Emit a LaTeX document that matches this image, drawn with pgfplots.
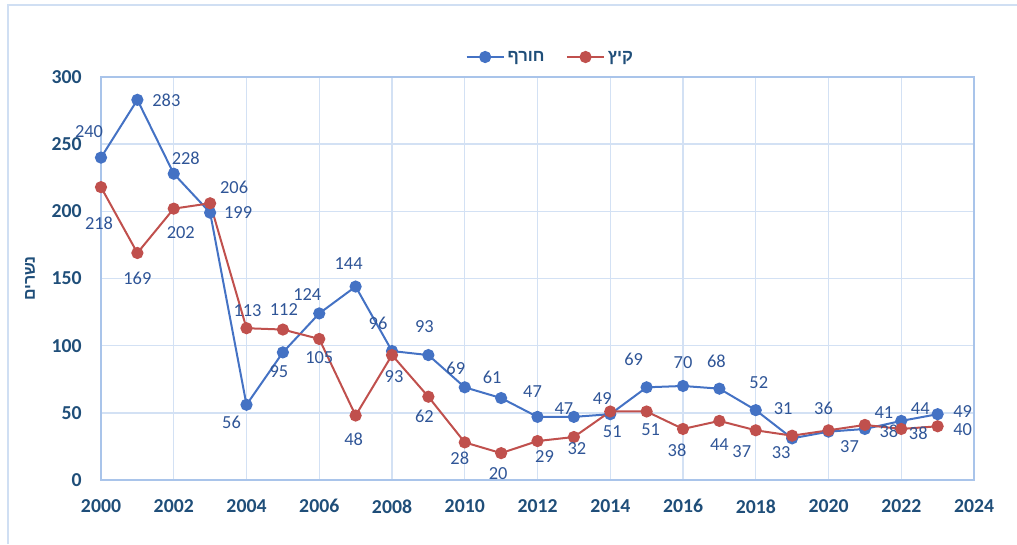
\documentclass[border=0pt]{standalone}
\usepackage{fontspec}
\setmainfont{Carlito}
\newfontfamily\hebfont[Script=Hebrew]{Liberation Sans}
\TeXXeTstate=1
\usepackage{pgfplots}
\usepackage{pgfplotstable}
\pgfplotsset{compat=1.18}
\definecolor{winter}{HTML}{4472C4}
\definecolor{summer}{HTML}{C0504D}
\definecolor{tickcol}{HTML}{1F4E79}
\definecolor{labcol}{HTML}{2F5597}
\definecolor{gridcol}{HTML}{D3E1F4}
\definecolor{axcol}{HTML}{A9C4EA}
\definecolor{framecol}{HTML}{D0DFF3}

\pgfplotstableread{
year val dx dy
2000 240 -12 -26
2001 283 29 0
2002 228 12 -15
2003 199 28 0
2004 56 -15 18
2005 95 -4 19
2006 124 -12 -19
2007 144 -7 -23
2008 96 -14 -28
2009 93 -4 -28
2010 69 -9 -19
2011 61 -9 -21
2012 47 -5 -25
2013 47 -10 -8
2014 49 -8 -16
2015 69 -13 -28
2016 70 0 -23
2017 68 -3 -27
2018 52 3 -28
2019 31 -9 -30
2020 36 -5 -23
2021 38 24 2
2022 44 19 -12
2023 49 25 -3
}\tabwinter

\pgfplotstableread{
year val dx dy
2000 218 -2 36
2001 169 0 25
2002 202 7 24
2003 206 24 -16
2004 113 1 -18
2005 112 1 -20
2006 105 0 19
2007 48 -2 24
2008 93 2 22
2009 62 -4 20
2010 28 -5 16
2011 20 -3 20
2012 29 7 15
2013 32 3 12
2014 51 2 20
2015 51 4 18
2016 38 -6 21
2017 44 0 24
2018 37 -14 21
2019 33 -11 17
2020 37 21 16
2021 41 19 -12
2022 38 17 4
2023 40 25 3
}\tabsummer

\begin{document}
\begin{tikzpicture}
\useasboundingbox (-75.75pt,-48pt) rectangle (687pt,360pt);
\draw[framecol, line width=1.5pt] (-69.75pt,-48pt) -- (-69.75pt,356.25pt) -- (687pt,356.25pt);
\begin{axis}[
  at={(0pt,0pt)}, anchor=south west, scale only axis,
  width=654.75pt, height=302.25pt,
  xmin=2000, xmax=2024, ymin=0, ymax=300,
  xtick distance=2, ytick distance=50,
  grid=major, major grid style={gridcol, line width=1.1pt},
  axis line style={axcol, line width=1.3pt},
  major tick length=0pt,
  clip=false,
  tick label style={font=\fontsize{14.8}{17}\selectfont\bfseries, text=tickcol},
  /pgf/number format/assume math mode=true,
  /pgf/number format/1000 sep={},
  yticklabel style={xshift=-11pt},
  xticklabel style={yshift=-11pt},
  ylabel={\hebfont\bfseries\beginR נשרים\endR},
  ylabel style={at={(axis description cs:-0.0813,0.5)}, anchor=center, font=\fontsize{12}{14}\selectfont, text=tickcol},
  legend style={at={(0.515,1)}, anchor=center, yshift=15pt, draw=none, fill=none,
    font=\fontsize{12.5}{14}\selectfont, text=tickcol,
    /tikz/every even column/.append style={column sep=14pt}},
  legend columns=2,
  legend image code/.code={\draw[#1, mark repeat=2, mark phase=2] plot coordinates {(0pt,0pt)(14pt,0pt)(28pt,0pt)};},
  point meta=explicit symbolic,
  visualization depends on={\thisrow{dx} \as \dx},
  visualization depends on={\thisrow{dy} \as \dy},
  nodes near coords,
  nodes near coords style={font=\fontsize{13.8}{16}\selectfont, text=labcol, anchor=center,
     xshift={(\dx)*0.75pt}, yshift={(\dy)*(-0.75pt)}},
]
\addplot[winter, line width=1.5pt, mark=*, mark size=3.8pt, mark options={solid, fill=winter, draw=winter}]
  table[x=year, y=val, meta=val]{\tabwinter};
\addlegendentry{\hebfont\bfseries\beginR חורף\endR}
\addplot[summer, line width=1.5pt, mark=*, mark size=3.8pt, mark options={solid, fill=summer, draw=summer}]
  table[x=year, y=val, meta=val]{\tabsummer};
\addlegendentry{\hebfont\bfseries\beginR קיץ\endR}
\end{axis}
\end{tikzpicture}
\end{document}
